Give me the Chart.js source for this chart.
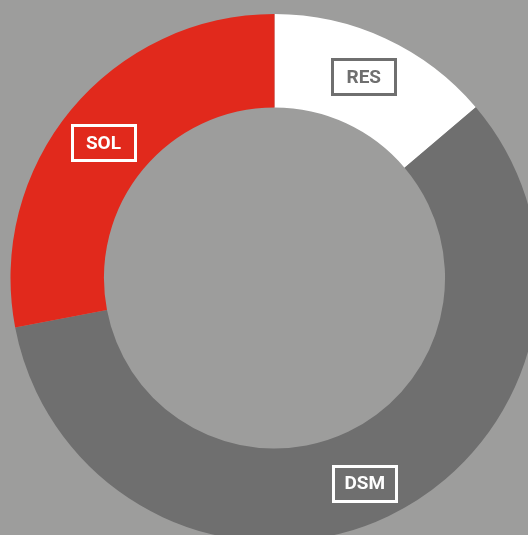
<!DOCTYPE html>
<html>
<head>
<meta charset="utf-8">
<script src="https://cdn.jsdelivr.net/npm/chart.js@4/dist/chart.umd.min.js"></script>
<style>
  html, body { margin: 0; padding: 0; background: #9d9d9c; overflow: hidden; }
  #wrap { position: absolute; left: 0; top: 0; width: 549px; height: 556px; }
</style>
</head>
<body>
<div id="wrap"><canvas id="grafico"></canvas></div>
<script>
var etiquetas = ['RES', 'DSM', 'SOL'];
var valores = [13.8, 58.2, 28.0];
var cores = ['#ffffff', '#6f6f6f', '#e1291c'];
var coresTexto = ['#6f6f6f', '#ffffff', '#ffffff'];
// label placement: angle shift (deg) and radius (px) relative to the slice
var ajusteAngulo = [-0.9, 1.8, -1.3];
var ajusteRaio = [220, 224, 218];

// draws the boxed label on each slice
var caixas = {
  id: 'caixas',
  afterDatasetsDraw: function (chart) {
    var c = chart.ctx;
    var arcs = chart.getDatasetMeta(0).data;
    c.save();
    c.font = 'bold 19px Roboto, "DejaVu Sans", sans-serif';
    c.textAlign = 'center';
    c.textBaseline = 'middle';
    arcs.forEach(function (arc, i) {
      var p = arc.getProps(['x', 'y', 'startAngle', 'endAngle', 'innerRadius', 'outerRadius'], true);
      var mid = (p.startAngle + p.endAngle) / 2 + ajusteAngulo[i] * Math.PI / 180;
      var r = ajusteRaio[i];
      var x = p.x + Math.cos(mid) * r;
      var y = p.y + Math.sin(mid) * r;
      c.strokeStyle = coresTexto[i];
      c.lineWidth = 3;
      c.strokeRect(Math.round(x - 31.5) + 0.5, Math.round(y - 17.5) + 0.5, 63, 35);
      c.fillStyle = coresTexto[i];
      c.fillText(etiquetas[i], x, y + 1);
    });
    c.restore();
  }
};

var ctx = document.getElementById('grafico').getContext('2d');
var grafico = new Chart(ctx, {
  type: 'doughnut',
  data: {
    labels: etiquetas,
    datasets: [{
      data: valores,
      backgroundColor: cores,
      borderWidth: 0,
      hoverOffset: 0
    }]
  },
  options: {
    responsive: true,
    maintainAspectRatio: false,
    animation: false,
    cutout: '64.6%',
    layout: { padding: { left: 10.5, right: 10.5, top: 14, bottom: 14 } },
    plugins: {
      legend: { display: false },
      tooltip: { enabled: false }
    }
  },
  plugins: [caixas]
});
</script>
</body>
</html>
